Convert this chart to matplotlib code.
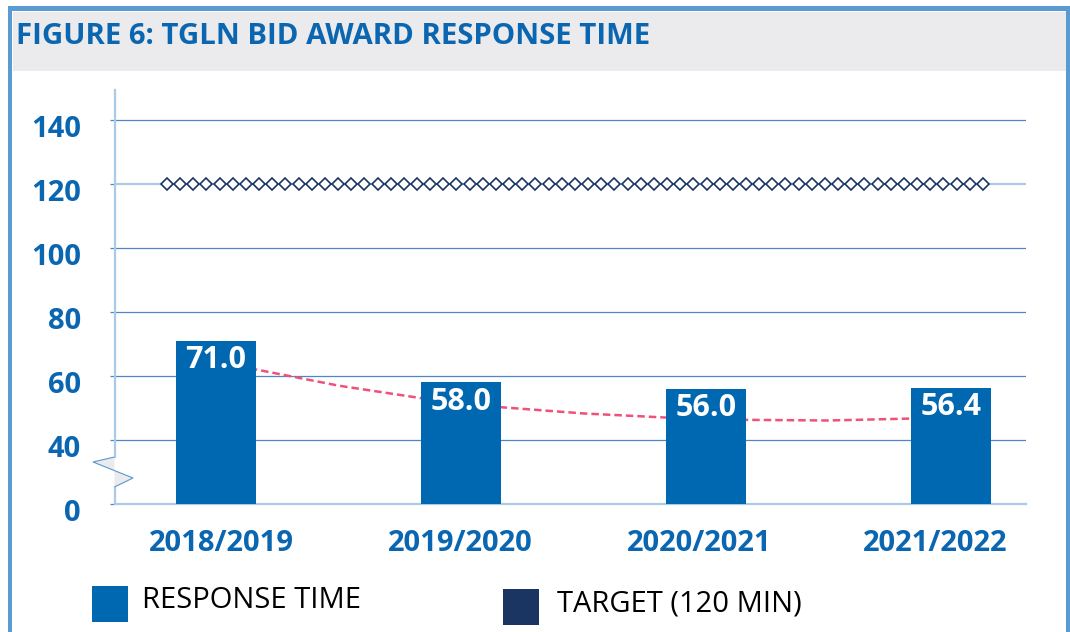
import numpy as np
import matplotlib
matplotlib.use("Agg")
import matplotlib.pyplot as plt
import matplotlib.transforms as mtransforms
from matplotlib.patches import Rectangle, Polygon
from matplotlib.lines import Line2D

# data
categories = ["2018/2019", "2019/2020", "2020/2021", "2021/2022"]
response_time = [71.0, 58.0, 56.0, 56.4]
target_value = 120
trend_x = [0.0, 0.5, 1.0, 1.5, 2.0, 2.5, 3.0]
trend_y = [64.5, 57.0, 51.2, 48.3, 46.4, 46.1, 47.0]
ytick_values = [0, 40, 60, 80, 100, 120, 140]

# colours
BLUE = "#0067b1"
NAVY = "#1b3563"
TITLE_BLUE = "#0a66b0"
GRID = "#4f86c4"
LIGHT = "#a9cbe8"
FRAME = "#5a9bd3"
HEADER = "#ebebed"
PINK = "#f0507a"

plt.rcParams["font.family"] = ["Open Sans", "DejaVu Sans"]

W, H = 1070, 632
fig = plt.figure(figsize=(W / 100, H / 100), dpi=100, facecolor="white")


def fx(px):
    return px / W


def fy(py):
    return 1 - py / H


# frame + header band
fig.patches.append(Rectangle((fx(13), fy(71)), fx(1053), 59 / H, transform=fig.transFigure,
                             facecolor=HEADER, edgecolor="none", zorder=0))
for x0, y0, w, h in [(8, 6, 4, 640), (8, 6, 1062, 5), (1066, 6, 4, 640)]:
    fig.patches.append(Rectangle((fx(x0), fy(y0 + h)), w / W, h / H, transform=fig.transFigure,
                                 facecolor=FRAME, edgecolor="none", zorder=1))
fig.text(fx(16), fy(37), "FIGURE 6: TGLN BID AWARD RESPONSE TIME", color=TITLE_BLUE,
         fontsize=21.2, fontweight="bold", va="center", ha="left")


# broken axis: 0-40 squeezed into half the space
def fwd(v):
    v = np.asarray(v, dtype=float)
    return np.where(v >= 40, v, 20 + v / 2)


def inv(v):
    v = np.asarray(v, dtype=float)
    return np.where(v >= 40, v, (v - 20) * 2)


ax = fig.add_axes([fx(115), fy(504), fx(1026) - fx(115), (504 - 90) / H])
ax.set_yscale("function", functions=(fwd, inv))
ax.set_ylim(0, 149.4)
x = np.arange(len(categories))
ax.set_xlim(-0.412, 3.306)

# gridlines
for v in ytick_values[1:]:
    if v == target_value:
        ax.axhline(v, color=LIGHT, lw=1.6, zorder=1)
    else:
        ax.axhline(v, color=GRID, lw=0.9, zorder=1)

# trend line behind bars
ax.plot(trend_x, trend_y, color=PINK, lw=1.8, dashes=(3, 1.6), zorder=2)

bars = ax.bar(x, response_time, width=0.327, color=BLUE, zorder=3)
for b, v in zip(bars, response_time):
    ax.annotate(f"{v:.1f}", xy=(b.get_x() + b.get_width() / 2, v), xytext=(0, -3),
                textcoords="offset points", ha="center", va="top", color="white",
                fontsize=22, fontweight="bold", zorder=4)

# target marker line
tx = np.linspace(-0.2, 3.13, 63)
ax.plot(tx, np.full(len(tx), target_value), ls="none", marker="D", ms=6.6,
        mfc="white", mec=NAVY, mew=1.2, zorder=5)

# axes styling
for s in ["top", "right", "left"]:
    ax.spines[s].set_visible(False)
ax.spines["bottom"].set_color(LIGHT)
ax.spines["bottom"].set_linewidth(1.6)
ax.set_yticks(ytick_values)
ax.set_yticklabels([str(v) for v in ytick_values])
ax.yaxis.set_minor_locator(matplotlib.ticker.NullLocator())
ax.tick_params(axis="y", length=3.6, width=0.9, color=GRID, pad=21,
               labelsize=21, labelcolor=TITLE_BLUE)
ax.set_xticks(x)
ax.set_xticklabels(categories)
ax.tick_params(axis="x", length=0, pad=18, labelsize=21, labelcolor=TITLE_BLUE)
for lbl in ax.get_xticklabels() + ax.get_yticklabels():
    lbl.set_fontweight("bold")
# category labels sit a little left of the bars in the original
for lbl, dx in zip(ax.get_xticklabels(), [5, -1, -7, -16]):
    lbl.set_transform(lbl.get_transform() + mtransforms.ScaledTranslation(dx / 100, 0, fig.dpi_scale_trans))
# value labels sit slightly below their gridlines
for lbl in ax.get_yticklabels():
    lbl.set_transform(lbl.get_transform() + mtransforms.ScaledTranslation(0, -6 / 100, fig.dpi_scale_trans))

# left axis line with break marker
fig.lines.append(Line2D([fx(114.5), fx(114.5)], [fy(90), fy(457)], transform=fig.transFigure,
                        color=LIGHT, lw=1.6))
fig.lines.append(Line2D([fx(114.5), fx(114.5)], [fy(487), fy(503)], transform=fig.transFigure,
                        color=LIGHT, lw=1.6))
brk = [(114.5, 457), (93, 462), (133, 478), (114.5, 487)]
fig.patches.append(Polygon([(fx(a), fy(b)) for a, b in brk], closed=False,
                           transform=fig.transFigure, facecolor=HEADER, edgecolor="#5b97cf",
                           lw=0.8, zorder=6))

# legend
fig.patches.append(Rectangle((fx(92), fy(622)), 36 / W, 36 / H, transform=fig.transFigure,
                             facecolor=BLUE, edgecolor="none"))
fig.text(fx(142), fy(601), "RESPONSE TIME", fontsize=21, color="black", va="center")
fig.patches.append(Rectangle((fx(503), fy(625)), 36 / W, 36 / H, transform=fig.transFigure,
                             facecolor=NAVY, edgecolor="none"))
fig.text(fx(557), fy(604), "TARGET (120 MIN)", fontsize=21, color="black", va="center")

fig.savefig("out.png", dpi=100, facecolor="white")
